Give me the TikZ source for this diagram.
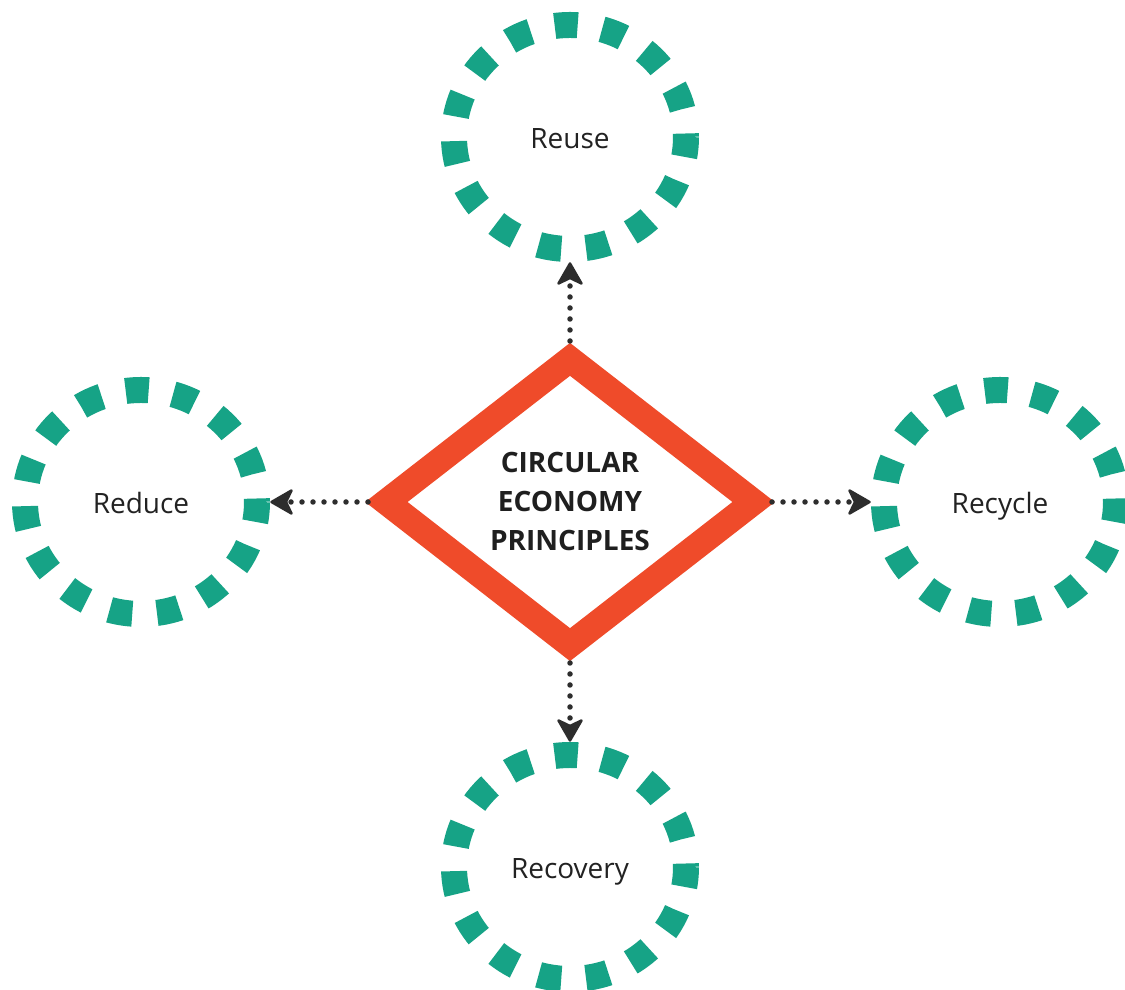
\documentclass[tikz,border=0pt]{standalone}
\usepackage{fontspec}
\setmainfont{Open Sans}
\usetikzlibrary{shapes.geometric, calc}
\definecolor{ringgreen}{RGB}{22,163,134}
\definecolor{hubred}{RGB}{239,75,42}
\definecolor{linkgray}{RGB}{45,45,45}
\definecolor{textdark}{RGB}{34,34,34}
\begin{document}
\begin{tikzpicture}[x=1pt, y=1pt,
  ring/.style={ellipse, draw=ringgreen, line width=26pt,
    minimum width=232pt, minimum height=224pt, inner sep=0pt,
    dash pattern=on 23pt off 24.73pt, dash phase=19.5pt,
    text height=23pt, text depth=0pt,
    text=textdark, font=\fontsize{28}{34}\selectfont},
  hub/.style={diamond, draw=hubred, line width=26pt, line join=miter,
    minimum width=378pt, minimum height=296pt, inner sep=0pt,
    align=center, text=black!88, font=\bfseries\fontsize{28}{39}\selectfont},
  dots/.style={draw=linkgray, line width=5.5pt, line cap=round,
    dash pattern=on 0pt off 11pt, shorten >=20pt},
  tip/.style={draw=linkgray, fill=linkgray, line width=2.5pt, line join=round}
]
\fill[white] (0,0) rectangle (1125,990);
\useasboundingbox (0,0) rectangle (1125,990);

% central principle
\node[hub] (hub) at (570,488) {CIRCULAR\\ECONOMY\\PRINCIPLES};

% the four R's
\node[ring] (reuse)    at (570,853)  {Reuse};
\node[ring] (reduce)   at (141,488)  {Reduce};
\node[ring] (recycle)  at (1000,488) {Recycle};
\node[ring] (recovery) at (570,123)  {Recovery};

% dotted links from the hub
\draw[dots] (hub.north) -- (reuse.south);
\draw[dots] (hub.west)  -- (reduce.east);
\draw[dots] (hub.east)  -- (recycle.west);
\draw[dots] (hub.south) -- (recovery.north);

% notched arrow heads, tip on the ring's outer edge
\foreach \n/\a in {reuse/south, reduce/east, recycle/west, recovery/north}{
  \path (\n.\a) coordinate (t);
  \path (hub) coordinate (h);
  \filldraw[tip]
    ($(t)!1.5pt!(h)$) -- ($(t)!21.5pt!(h)!11.5pt!90:(h)$)
    -- ($(t)!16pt!(h)$) -- ($(t)!21.5pt!(h)!11.5pt!-90:(h)$) -- cycle;
}
\end{tikzpicture}
\end{document}
